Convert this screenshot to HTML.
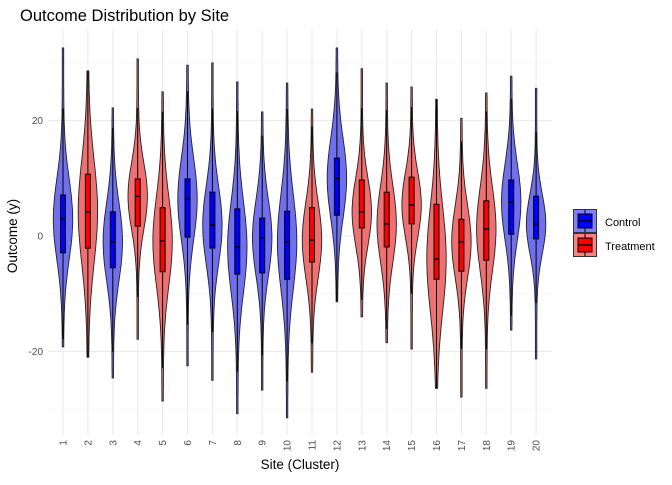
<!DOCTYPE html>
<html><head><meta charset="utf-8"><style>
body{margin:0;background:#fff;font-family:"Liberation Sans",sans-serif;}
svg text{font-family:"Liberation Sans",sans-serif;}
</style></head><body>
<svg id="chart" width="672" height="480" viewBox="0 0 672 480" xmlns="http://www.w3.org/2000/svg">
<text x="20" y="21" font-size="16.5" fill="#000">Outcome Distribution by Site</text>
<g id="grid"></g>
<g id="marks"></g>
<g id="axes"></g>
<text x="300" y="469" font-size="13.5" text-anchor="middle">Site (Cluster)</text>
<text transform="translate(17,236) rotate(-90)" font-size="13.5" text-anchor="middle">Outcome (y)</text>
<g>
 <g>
  <rect x="573.5" y="209.5" width="23" height="23" fill="#8080ff" stroke="#333"/>
  <line x1="585" y1="210" x2="585" y2="232" stroke="#000"/>
  <rect x="578" y="214" width="14" height="14" fill="#0000ff" stroke="#000"/>
  <line x1="578" y1="221" x2="592" y2="221" stroke="#000" stroke-width="1.5"/>
  <text x="605" y="226" font-size="11">Control</text>
 </g>
 <g>
  <rect x="573.5" y="233.5" width="23" height="23" fill="#ff8080" stroke="#333"/>
  <line x1="585" y1="234" x2="585" y2="256" stroke="#000"/>
  <rect x="578" y="238" width="14" height="14" fill="#ff0000" stroke="#000"/>
  <line x1="578" y1="245" x2="592" y2="245" stroke="#000" stroke-width="1.5"/>
  <text x="605" y="250" font-size="11">Treatment</text>
 </g>
</g>
</svg>
<script>
const sites=["1","2","3","4","5","6","7","8","9","10","11","12","13","14","15","16","17","18","19","20"];
const groups=["C","T","C","T","T","C","C","C","C","C","T","C","T","T","T","T","T","T","C","C"];
const maxV=[32.6,28.6,22.2,30.7,25,29.6,30,26.7,21.5,26.5,22,32.6,29,26.5,25.8,23.7,20.4,24.8,27.7,25.6];
const minV=[-19.2,-21,-24.6,-17.9,-28.6,-22.5,-25,-30.8,-26.7,-31.5,-23.6,-11.4,-14,-18.5,-19.6,-26.4,-27.9,-26.4,-16.3,-21.3];
const q3V=[7.1,10.7,4.2,9.9,4.9,9.9,7.6,4.7,3.1,4.3,4.9,13.5,9.7,7.6,10.2,5.5,2.9,6.1,9.7,6.9];
const q1V=[-2.9,-2.1,-5.5,1.7,-6.2,-0.2,-2.1,-6.6,-6.4,-7.5,-4.5,3.6,1.4,-1.9,2.1,-7.5,-6.1,-4.2,0.3,-0.5];
const medV=[2.9,4.2,-1.0,6.9,-0.9,6.4,1.9,-1.9,-0.3,-1.0,-0.7,10,4.2,2.1,5.4,-4.0,-1.0,1.2,5.9,2.1];
const yTicks=[-20,0,20];
const yMinor=[-30,-10,10,30];

const NS="http://www.w3.org/2000/svg";
const L=48,R=552,T=30,B=435;
const xs=i=>63+24.9*i;
const ys=v=>236-5.77*v;
function mk(tag,attrs,parent){const e=document.createElementNS(NS,tag);for(const k in attrs)e.setAttribute(k,attrs[k]);parent.appendChild(e);return e;}
const grid=document.getElementById('grid'),marks=document.getElementById('marks'),axes=document.getElementById('axes');
yMinor.forEach(v=>{const l=mk('line',{x1:L,x2:R,y1:ys(v),y2:ys(v),stroke:'#f2f2f2','stroke-width':0.6},grid);
});
yTicks.forEach(v=>{const l=mk('line',{x1:L,x2:R,y1:ys(v),y2:ys(v),stroke:'#ebebeb','stroke-width':1.1},grid);

const t=mk('text',{x:43,y:ys(v)+3.5,'font-size':10,'text-anchor':'end',fill:'#4d4d4d'},axes);t.textContent=v;
});
sites.forEach((s,i)=>{const l=mk('line',{x1:xs(i),x2:xs(i),y1:T,y2:B,stroke:'#ebebeb','stroke-width':1.1},grid);

const t=mk('text',{transform:`translate(${xs(i)+3.5},${440}) rotate(-90)`,'font-size':10,'text-anchor':'end',fill:'#4d4d4d'},axes);t.textContent=s;
});
sites.forEach((s,i)=>{
 const g=mk('g',{},marks);
 
 
 const isC=groups[i]==='C';
 const med=medV[i],sd=(q3V[i]-q1V[i])/1.35*0.95,lo=minV[i],hi=maxV[i];
 const N=80,pts=[];let mx=0;
 for(let k=0;k<=N;k++){const v=lo+(hi-lo)*k/N;const w=Math.exp(-0.5*Math.pow((v-med)/sd,2));pts.push([v,w]);mx=Math.max(mx,w);}
 const W=9,x0=xs(i);
 let d='';
 pts.forEach(([v,w],k)=>{d+=(k?'L':'M')+(x0+W*w/mx+0.7).toFixed(1)+','+ys(v).toFixed(1);});
 for(let k=pts.length-1;k>=0;k--){const [v,w]=pts[k];d+='L'+(x0-W*w/mx-0.7).toFixed(1)+','+ys(v).toFixed(1);}
 d+='Z';
 const p=mk('path',{d:d,fill:isC?'#7070ee':'#ee7070',stroke:'#222','stroke-width':0.9},g);
 
 const iqr=q3V[i]-q1V[i];
 const wl=mk('line',{x1:x0,x2:x0,y1:ys(Math.min(hi,q3V[i]+1.5*iqr)),y2:ys(Math.max(lo,q1V[i]-1.5*iqr)),stroke:'#000','stroke-width':1},g);
 
 const bx=mk('rect',{x:x0-2.5,y:ys(q3V[i]),width:5,height:ys(q1V[i])-ys(q3V[i]),fill:isC?'#0000ff':'#ff0000',stroke:'#000','stroke-width':1},g);
 
 const ml=mk('line',{x1:x0-2.5,x2:x0+2.5,y1:ys(med),y2:ys(med),stroke:'#000','stroke-width':1.5},g);
 
});
</script>
</body></html>
